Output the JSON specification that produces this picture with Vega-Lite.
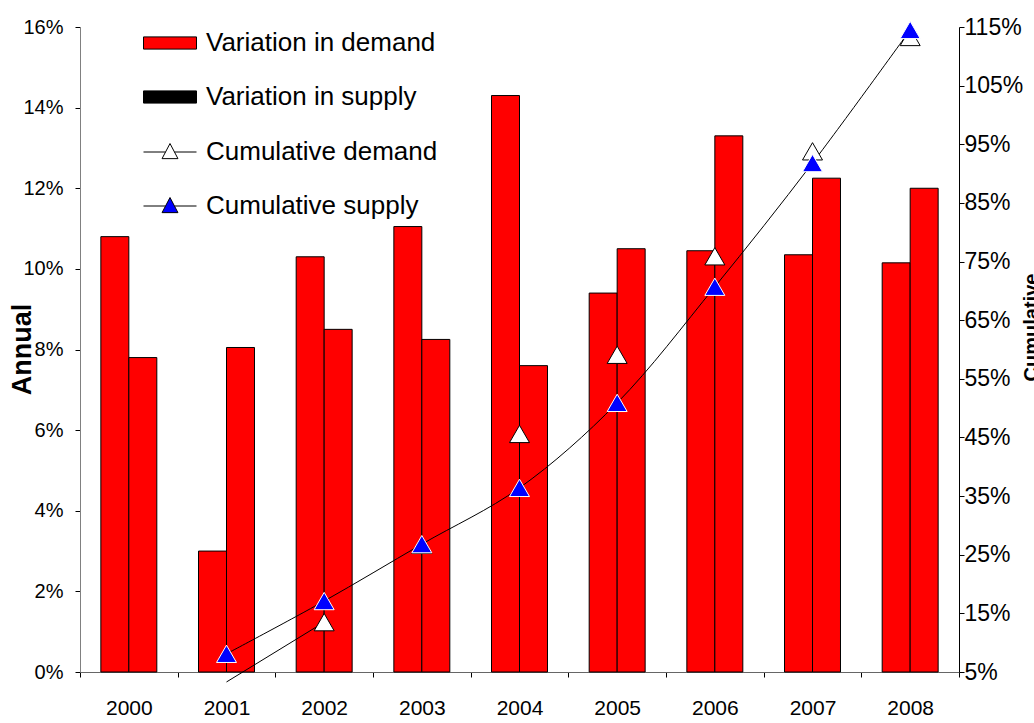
{
  "$schema": "https://vega.github.io/schema/vega-lite/v6.json",
  "width": 879,
  "height": 645,
  "autosize": {"type": "none"},
  "padding": {"left": 80, "top": 27, "right": 75, "bottom": 51},
  "background": "white",
  "config": {
    "view": {"stroke": null},
    "font": "Liberation Sans",
    "axis": {
      "grid": false,
      "labelFont": "Liberation Sans",
      "labelFontSize": 20,
      "labelColor": "black",
      "tickColor": "black",
      "domainColor": "black",
      "titleFont": "Liberation Sans",
      "titleColor": "black"
    },
    "legend": {
      "title": null,
      "orient": "none",
      "labelFont": "Liberation Sans",
      "labelFontSize": 26,
      "labelColor": "black",
      "labelLimit": 400,
      "symbolSize": 2809,
      "symbolOpacity": 1,
      "symbolStrokeColor": "black",
      "symbolStrokeWidth": 1,
      "labelOffset": 9,
      "rowPadding": 14
    }
  },
  "datasets": {
    "bars": [
      {"year": "2000", "series": "Variation in demand", "value": 10.8},
      {"year": "2000", "series": "Variation in supply", "value": 7.8},
      {"year": "2001", "series": "Variation in demand", "value": 3.0},
      {"year": "2001", "series": "Variation in supply", "value": 8.05},
      {"year": "2002", "series": "Variation in demand", "value": 10.3},
      {"year": "2002", "series": "Variation in supply", "value": 8.5},
      {"year": "2003", "series": "Variation in demand", "value": 11.05},
      {"year": "2003", "series": "Variation in supply", "value": 8.25},
      {"year": "2004", "series": "Variation in demand", "value": 14.3},
      {"year": "2004", "series": "Variation in supply", "value": 7.6},
      {"year": "2005", "series": "Variation in demand", "value": 9.4},
      {"year": "2005", "series": "Variation in supply", "value": 10.5},
      {"year": "2006", "series": "Variation in demand", "value": 10.45},
      {"year": "2006", "series": "Variation in supply", "value": 13.3},
      {"year": "2007", "series": "Variation in demand", "value": 10.35},
      {"year": "2007", "series": "Variation in supply", "value": 12.25},
      {"year": "2008", "series": "Variation in demand", "value": 10.15},
      {"year": "2008", "series": "Variation in supply", "value": 12.0}
    ],
    "cum": [
      {"year": "2001", "series": "Cumulative demand", "value": 3.3},
      {"year": "2002", "series": "Cumulative demand", "value": 13.5},
      {"year": "2003", "series": "Cumulative demand", "value": 26.7},
      {"year": "2004", "series": "Cumulative demand", "value": 45.6},
      {"year": "2005", "series": "Cumulative demand", "value": 59.1},
      {"year": "2006", "series": "Cumulative demand", "value": 75.9},
      {"year": "2007", "series": "Cumulative demand", "value": 93.8},
      {"year": "2008", "series": "Cumulative demand", "value": 113.3},
      {"year": "2001", "series": "Cumulative supply", "value": 8.1},
      {"year": "2002", "series": "Cumulative supply", "value": 17.1},
      {"year": "2003", "series": "Cumulative supply", "value": 26.8},
      {"year": "2004", "series": "Cumulative supply", "value": 36.4},
      {"year": "2005", "series": "Cumulative supply", "value": 50.9},
      {"year": "2006", "series": "Cumulative supply", "value": 70.7},
      {"year": "2007", "series": "Cumulative supply", "value": 91.8},
      {"year": "2008", "series": "Cumulative supply", "value": 114.5}
    ]
  },
  "layer": [
    {
      "data": {"name": "bars"},
      "mark": {"type": "bar", "stroke": "black", "strokeWidth": 1, "fill": "#FF0000"},
      "encoding": {
        "x": {
          "field": "year", "type": "nominal",
          "scale": {"paddingInner": 0, "paddingOuter": 0},
          "axis": {"title": null, "labelAngle": 0, "labelFontSize": 21, "tickBand": "extent", "domainColor": "#666666", "tickSize": 5, "labelPadding": 20}
        },
        "xOffset": {
          "field": "series", "type": "nominal",
          "scale": {"paddingInner": 0, "paddingOuter": 0.745}
        },
        "y": {
          "field": "value", "type": "quantitative",
          "scale": {"domain": [0, 16], "nice": false, "zero": true},
          "axis": {
            "orient": "left",
            "values": [0, 2, 4, 6, 8, 10, 12, 14, 16],
            "labelExpr": "datum.value + '%'",
            "title": "Annual",
            "titleFontSize": 27,
            "titleFontWeight": "bold",
            "titleAngle": 270,
            "titleX": -58,
            "titleY": 322,
            "titleBaseline": "middle",
            "titleAlign": "center",
            "domainColor": "#808080",
            "tickSize": 5,
            "labelPadding": 12
          }
        }
      }
    },
    {
      "data": {"name": "cum"},
      "encoding": {
        "x": {"field": "year", "type": "nominal"},
        "y": {
          "field": "value", "type": "quantitative",
          "scale": {"domain": [5, 115], "nice": false, "zero": false},
          "axis": {
            "orient": "right",
            "values": [5, 15, 25, 35, 45, 55, 65, 75, 85, 95, 105, 115],
            "labelExpr": "datum.value + '%'",
            "labelFontSize": 23,
            "title": "Cumulative",
            "titleFontSize": 20,
            "titleFontWeight": "bold",
            "titleAngle": 270,
            "titleX": 72,
            "titleY": 300,
            "titleBaseline": "middle",
            "titleAlign": "center",
            "tickSize": 5,
            "labelPadding": 0
          }
        }
      },
      "layer": [
        {
          "transform": [{"filter": "datum.series == 'Cumulative supply'"}],
          "mark": {"type": "line", "stroke": "black", "strokeWidth": 1, "interpolate": "catmull-rom"},
          "encoding": {}
        },
        {
          "transform": [{"filter": "datum.series == 'Cumulative demand' && (datum.year == '2001' || datum.year == '2002')"}],
          "mark": {"type": "line", "stroke": "black", "strokeWidth": 1},
          "encoding": {}
        },
        {
          "transform": [{"filter": "datum.series == 'Cumulative demand' && datum.value >= 5"}],
          "mark": {"type": "point", "shape": "triangle-up", "filled": true, "size": 400, "fill": "#FFFFFF", "stroke": "black", "strokeWidth": 1, "opacity": 1},
          "encoding": {}
        },
        {
          "transform": [{"filter": "datum.series == 'Cumulative supply'"}],
          "mark": {"type": "point", "shape": "triangle-up", "filled": true, "size": 400, "fill": "#0000FF", "stroke": "white", "strokeWidth": 1, "opacity": 1},
          "encoding": {}
        }
      ]
    },
    {
      "data": {"name": "bars"},
      "transform": [{"filter": "false"}],
      "mark": {"type": "point", "filled": true, "stroke": "black", "strokeWidth": 1},
      "encoding": {
        "fill": {
          "field": "series", "type": "nominal",
          "scale": {
            "domain": ["Variation in demand", "Variation in supply"],
            "range": ["#FF0000", "#000000"]
          },
          "legend": {
            "legendX": 63,
            "legendY": -11,
            "symbolType": "M-1,-0.23H1V0.23H-1Z"
          }
        }
      }
    },
    {
      "data": {"name": "cum"},
      "transform": [{"filter": "false"}],
      "mark": {"type": "point", "filled": true, "stroke": "black", "strokeWidth": 1},
      "encoding": {
        "fill": {
          "field": "series", "type": "nominal",
          "scale": {
            "domain": ["Cumulative demand", "Cumulative supply"],
            "range": ["#FFFFFF", "#0000FF"]
          },
          "legend": {
            "legendX": 63,
            "legendY": 98,
            "symbolType": "M-1,0H-0.17M0.17,0H1M0,-0.32L0.3,0.25H-0.3Z"
          }
        }
      }
    }
  ],
  "resolve": {"scale": {"y": "independent", "fill": "independent"}}
}
